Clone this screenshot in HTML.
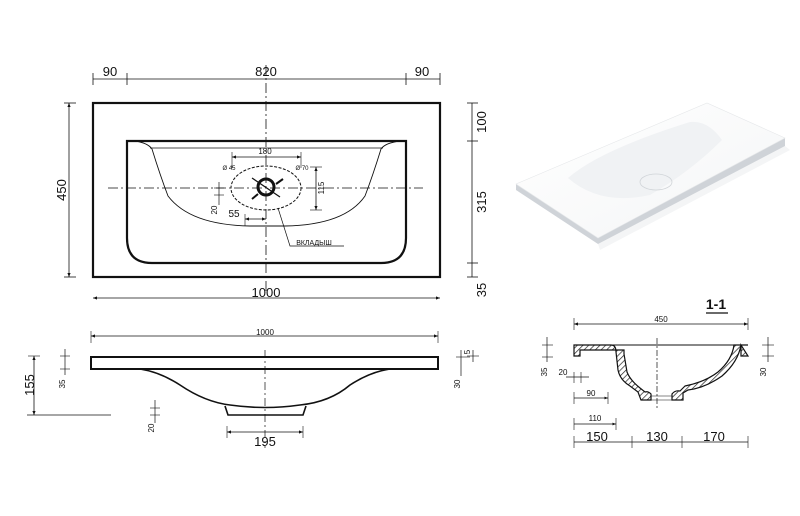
<!DOCTYPE html>
<html><head><meta charset="utf-8"><style>
html,body{margin:0;padding:0;background:#fff;width:800px;height:516px;overflow:hidden}
svg{display:block}
text{font-family:"Liberation Sans",sans-serif;fill:#111}
</style></head><body>
<svg width="800" height="516" viewBox="0 0 800 516" xmlns="http://www.w3.org/2000/svg">
<defs>
<marker id="a" viewBox="0 0 10 10" refX="10" refY="5" markerWidth="7" markerHeight="5" orient="auto-start-reverse"><path d="M0,1 L10,5 L0,9 z" fill="#111"/></marker>
<pattern id="h" width="4" height="4" patternUnits="userSpaceOnUse" patternTransform="rotate(45)"><rect width="4" height="4" fill="#fff"/><line x1="0" y1="0" x2="0" y2="4" stroke="#222" stroke-width="1.4"/></pattern>
<linearGradient id="g" x1="0" y1="0" x2="1" y2="1"><stop offset="0" stop-color="#fff"/><stop offset="1" stop-color="#f4f5f6"/></linearGradient>
</defs>
<g stroke="#111" fill="none">
<rect x="93" y="103" width="347" height="174" stroke-width="2.2"/>
<path d="M127,141 H406 V238 Q406,263 381,263 H152 Q127,263 127,238 Z" stroke-width="2.2"/>
<path d="M150,148 H383" stroke-width="0.8"/>
<path d="M135,141 Q148,143 152,149 Q160,175 168,196 Q190,225 250,226 H285 Q345,225 365,196 Q373,175 381,149 Q385,143 400,141" stroke-width="0.9"/>
<line x1="108" y1="188" x2="423" y2="188" stroke-width="0.8" stroke-dasharray="10,3,2,3"/>
<line x1="266" y1="65" x2="266" y2="292" stroke-width="0.8" stroke-dasharray="10,3,2,3"/>
<ellipse cx="266" cy="188" rx="35" ry="22" stroke-width="1" stroke-dasharray="3,1.5"/>
<circle cx="266" cy="187" r="8" stroke-width="3"/>
<line x1="252" y1="178" x2="280" y2="197" stroke-width="1.2"/>
<line x1="252" y1="199" x2="258" y2="194" stroke-width="2"/>
<line x1="283" y1="179" x2="276" y2="184" stroke-width="2"/>
<line x1="93" y1="79" x2="440" y2="79" stroke-width="0.8"/>
<line x1="93" y1="73" x2="93" y2="85" stroke-width="0.8"/><line x1="127" y1="73" x2="127" y2="85" stroke-width="0.8"/>
<line x1="406" y1="73" x2="406" y2="85" stroke-width="0.8"/><line x1="440" y1="73" x2="440" y2="85" stroke-width="0.8"/>
<line x1="69" y1="103" x2="69" y2="277" stroke-width="0.8" marker-start="url(#a)" marker-end="url(#a)"/>
<line x1="64" y1="103" x2="76" y2="103" stroke-width="0.8"/><line x1="64" y1="277" x2="76" y2="277" stroke-width="0.8"/>
<line x1="93" y1="298" x2="440" y2="298" stroke-width="0.8" marker-start="url(#a)" marker-end="url(#a)"/>
<line x1="472" y1="103" x2="472" y2="277" stroke-width="0.8"/>
<line x1="467" y1="103" x2="478" y2="103" stroke-width="0.8"/><line x1="467" y1="141" x2="478" y2="141" stroke-width="0.8"/>
<line x1="467" y1="263" x2="478" y2="263" stroke-width="0.8"/><line x1="467" y1="277" x2="478" y2="277" stroke-width="0.8"/>
<line x1="232" y1="157" x2="301" y2="157" stroke-width="0.8" marker-start="url(#a)" marker-end="url(#a)"/>
<line x1="232" y1="152" x2="232" y2="168" stroke-width="0.6"/><line x1="301" y1="152" x2="301" y2="168" stroke-width="0.6"/>
<line x1="316" y1="167" x2="316" y2="210" stroke-width="0.8" marker-start="url(#a)" marker-end="url(#a)"/>
<line x1="310" y1="167" x2="322" y2="167" stroke-width="0.6"/><line x1="310" y1="210" x2="322" y2="210" stroke-width="0.6"/>
<line x1="219" y1="182" x2="219" y2="205" stroke-width="0.7"/><line x1="214" y1="188" x2="224" y2="188" stroke-width="0.6"/><line x1="214" y1="195" x2="224" y2="195" stroke-width="0.6"/>
<line x1="245" y1="219" x2="266" y2="219" stroke-width="0.8" marker-start="url(#a)" marker-end="url(#a)"/>
<line x1="245" y1="214" x2="245" y2="226" stroke-width="0.6"/>
<polyline points="278,208 290,246 344,246" stroke-width="0.7"/>
<line x1="91" y1="336" x2="438" y2="336" stroke-width="0.8" marker-start="url(#a)" marker-end="url(#a)"/>
<line x1="91" y1="331" x2="91" y2="343" stroke-width="0.6"/><line x1="438" y1="331" x2="438" y2="343" stroke-width="0.6"/>
<rect x="91" y="357" width="347" height="12" stroke-width="2"/>
<path d="M140,369 Q160,372 180,385 Q205,402 230,405 Q265,410 300,405 Q330,402 350,385 Q370,372 390,369" stroke-width="1.6"/>
<path d="M225,406 L228,415 H303 L306,406" stroke-width="1.6"/>
<line x1="265" y1="350" x2="265" y2="448" stroke-width="0.7" stroke-dasharray="8,3,2,3"/>
<line x1="34" y1="356" x2="34" y2="415" stroke-width="0.8" marker-start="url(#a)" marker-end="url(#a)"/>
<line x1="28" y1="356" x2="40" y2="356" stroke-width="0.6"/><line x1="27" y1="415" x2="111" y2="415" stroke-width="0.8"/>
<line x1="65" y1="349" x2="65" y2="375" stroke-width="0.7"/><line x1="60" y1="356" x2="70" y2="356" stroke-width="0.6"/><line x1="60" y1="369" x2="70" y2="369" stroke-width="0.6"/>
<line x1="155" y1="400" x2="155" y2="423" stroke-width="0.7"/><line x1="150" y1="408" x2="160" y2="408" stroke-width="0.6"/><line x1="150" y1="415" x2="160" y2="415" stroke-width="0.6"/>
<line x1="227" y1="432" x2="303" y2="432" stroke-width="0.8" marker-start="url(#a)" marker-end="url(#a)"/>
<line x1="227" y1="426" x2="227" y2="438" stroke-width="0.6"/><line x1="303" y1="426" x2="303" y2="438" stroke-width="0.6"/>
<line x1="461" y1="350" x2="461" y2="376" stroke-width="0.7"/><line x1="456" y1="357" x2="470" y2="357" stroke-width="0.6"/>
<line x1="473" y1="350" x2="473" y2="362" stroke-width="0.7"/><line x1="467" y1="356" x2="479" y2="356" stroke-width="0.6"/>
<line x1="574" y1="324" x2="748" y2="324" stroke-width="0.8" marker-start="url(#a)" marker-end="url(#a)"/>
<line x1="574" y1="318" x2="574" y2="330" stroke-width="0.6"/><line x1="748" y1="318" x2="748" y2="330" stroke-width="0.6"/>
<line x1="574" y1="345" x2="748" y2="345" stroke-width="0.9"/>
<line x1="657" y1="338" x2="657" y2="410" stroke-width="0.7" stroke-dasharray="6,2,2,2"/>
<path d="M574,345 H611 Q616,345 616,352 L618,370 Q620,380 630,386 L638,392 L641,400 H651 V394 Q648,391 645,392 L640,388 Q630,380 627,372 L624,354 V350 H580 V356 H574 Z" fill="url(#h)" stroke-width="1.2"/>
<path d="M748,345 H741 Q738,362 722,376 Q705,388 688,390 L683,393 V400 H672 V394 Q675,390 680,391 L685,386 Q705,382 718,372 Q732,360 734,345 Z M741,345 V356 H748 Z" fill="url(#h)" stroke-width="1.2"/>
<path d="M651,396 H672 M651,400 H672" stroke-width="0.6"/>
<line x1="547" y1="337" x2="547" y2="362" stroke-width="0.7"/><line x1="542" y1="345" x2="553" y2="345" stroke-width="0.6"/><line x1="542" y1="357" x2="553" y2="357" stroke-width="0.6"/>
<line x1="768" y1="337" x2="768" y2="362" stroke-width="0.7"/><line x1="762" y1="345" x2="774" y2="345" stroke-width="0.6"/><line x1="762" y1="356" x2="774" y2="356" stroke-width="0.6"/>
<line x1="566" y1="377" x2="589" y2="377" stroke-width="0.7"/><line x1="574" y1="372" x2="574" y2="383" stroke-width="0.6"/><line x1="581" y1="372" x2="581" y2="383" stroke-width="0.6"/>
<line x1="574" y1="398" x2="608" y2="398" stroke-width="0.7" marker-end="url(#a)"/><line x1="574" y1="392" x2="574" y2="404" stroke-width="0.6"/><line x1="608" y1="392" x2="608" y2="404" stroke-width="0.6"/>
<line x1="574" y1="424" x2="616" y2="424" stroke-width="0.7" marker-end="url(#a)"/><line x1="574" y1="418" x2="574" y2="430" stroke-width="0.6"/><line x1="616" y1="418" x2="616" y2="430" stroke-width="0.6"/>
<line x1="574" y1="442" x2="748" y2="442" stroke-width="0.8"/>
<line x1="574" y1="436" x2="574" y2="448" stroke-width="0.6"/><line x1="632" y1="436" x2="632" y2="448" stroke-width="0.6"/><line x1="682" y1="436" x2="682" y2="448" stroke-width="0.6"/><line x1="748" y1="436" x2="748" y2="448" stroke-width="0.6"/>
<line x1="706" y1="313" x2="728" y2="313" stroke-width="1.2"/>
</g>
<g>
<path d="M598,244 L785,146 L790,150 L600,250 Z" fill="#f4f5f6"/>
<path d="M516,184 L707,103 L785,138 L785,146 L598,244 L516,190 Z" fill="#cfd3d8"/>
<path d="M516,184 L707,103 L785,138 L598,238 Z" fill="url(#g)" stroke="#e6e8ea" stroke-width="0.6"/>
<path d="M568,178 Q600,150 690,122 Q708,120 722,140 Q690,172 650,195 Q600,206 568,178 Z" fill="#f0f2f4"/>
<ellipse cx="656" cy="182" rx="16" ry="8" fill="none" stroke="#d0d4d8" stroke-width="0.8"/>
</g>
<g font-size="13" text-anchor="middle">
<text x="110" y="76">90</text><text x="266" y="76">820</text><text x="422" y="76">90</text>
<text x="266" y="297">1000</text>
<text transform="translate(66,190) rotate(-90)">450</text>
<text transform="translate(486,122) rotate(-90)">100</text>
<text transform="translate(486,202) rotate(-90)">315</text>
<text transform="translate(486,290) rotate(-90)">35</text>
<text transform="translate(34,385) rotate(-90)">155</text>
<text x="265" y="446">195</text>
<text x="597" y="441">150</text><text x="657" y="441">130</text><text x="714" y="441">170</text>
<text x="716" y="309" font-weight="bold" font-size="14">1-1</text>
</g>
<g font-size="8" text-anchor="middle">
<text x="265" y="154">180</text>
<text transform="translate(324,188) rotate(-90)">115</text>
<text transform="translate(217,210) rotate(-90)">20</text>
<text x="234" y="217" font-size="10">55</text>
<text x="314" y="245" font-size="7">ВКЛАДЫШ</text>
<text x="229" y="170" font-size="6">Ø 45</text>
<text x="302" y="170" font-size="6">Ø 70</text>
<text x="265" y="335">1000</text>
<text transform="translate(65,384) rotate(-90)">35</text>
<text transform="translate(154,428) rotate(-90)">20</text>
<text transform="translate(460,384) rotate(-90)">30</text>
<text transform="translate(470,352) rotate(-90)">5</text>
<text x="661" y="322">450</text>
<text transform="translate(547,372) rotate(-90)">35</text>
<text x="563" y="375">20</text>
<text x="591" y="396">90</text>
<text x="595" y="421">110</text>
<text transform="translate(766,372) rotate(-90)">30</text>
</g>
</svg>
</body></html>
